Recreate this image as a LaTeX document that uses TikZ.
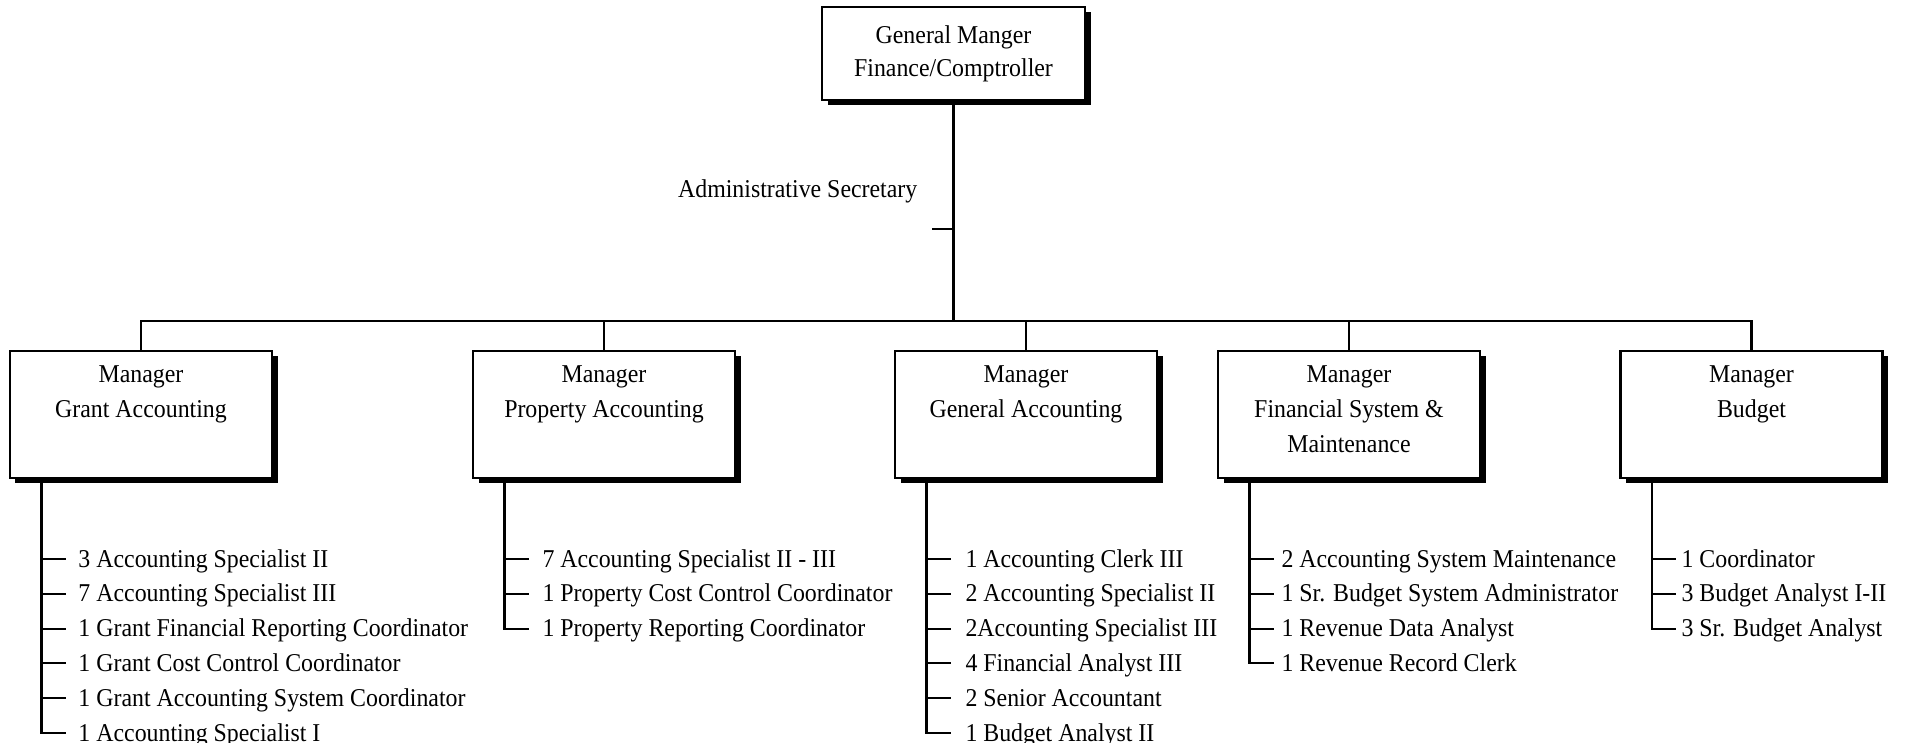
\documentclass[tikz,border=0pt]{standalone}
\usepackage{fontspec}
\setmainfont{Liberation Serif}[FakeStretch=0.93]
\usetikzlibrary{shadows}

\begin{document}
\begin{tikzpicture}[
  x=1cm,
  y=1cm,
  font=\fontsize{7.3}{9.9}\selectfont,
  office/.style={
    rectangle,
    draw=black,
    fill=white,
    line width=0.6pt,
    align=center,
    inner sep=0pt,
    drop shadow={shadow xshift=0.055cm, shadow yshift=-0.055cm, fill=black, opacity=1}
  },
  chief/.style={
    office,
    minimum width=2.63cm,
    minimum height=0.93cm,
    font=\fontsize{7.3}{9.4}\selectfont
  },
  manager/.style={
    office,
    minimum width=2.62cm,
    minimum height=1.27cm,
    font=\fontsize{7.3}{9.96}\selectfont
  },
  staff/.style={anchor=mid west, inner ysep=0pt, inner xsep=#1, outer sep=0pt},
  staff/.default=0.13cm,
  link/.style={draw=black, line width=0.6pt}
]
\useasboundingbox (0,0) rectangle (19.10,7.43);

% ---------------------------------------------------------------------------
% Top of the chart
% ---------------------------------------------------------------------------
\node[chief] (gm) at (9.535,6.895) {General Manger\\Finance/Comptroller};
\node[anchor=base east, inner sep=0pt] (sec) at (9.18,5.45) {Administrative Secretary};
\coordinate (sectick) at (9.32,5.14);
\coordinate (bar) at (0,4.22);

% ---------------------------------------------------------------------------
% Managers
% ---------------------------------------------------------------------------
\node[manager] (grant)    at (1.41,3.285)   {Manager\\Grant Accounting\\\strut};
\node[manager] (property) at (6.04,3.285)   {Manager\\Property Accounting\\\strut};
\node[manager] (general)  at (10.26,3.285)  {Manager\\General Accounting\\\strut};
\node[manager] (finsys)   at (13.49,3.285)  {Manager\\Financial System \&\\Maintenance\strut};
\node[manager] (budget)   at (17.515,3.285) {Manager\\Budget\\\strut};

\draw[link] (gm.south) -- (gm.south |- bar);
\draw[link] (sectick) -- (sectick -| gm.south);
\draw[link] (grant.north) -- (grant.north |- bar) -- (budget.north |- bar) -- (budget.north);
\draw[link] (property.north) -- (property.north |- bar);
\draw[link] (general.north) -- (general.north |- bar);
\draw[link] (finsys.north) -- (finsys.north |- bar);

% ---------------------------------------------------------------------------
% Grant accounting staff
% ---------------------------------------------------------------------------
\coordinate (gaspine) at ([xshift=0.325cm]grant.south west);
\node[staff] (ga1) at (0.655,1.840) {3 Accounting Specialist II};
\node[staff] (ga2) at (0.655,1.492) {7 Accounting Specialist III};
\node[staff] (ga3) at (0.655,1.144) {1 Grant Financial Reporting Coordinator};
\node[staff] (ga4) at (0.655,0.796) {1 Grant Cost Control Coordinator};
\node[staff] (ga5) at (0.655,0.448) {1 Grant Accounting System Coordinator};
\node[staff] (ga6) at (0.655,0.100) {1 Accounting Specialist I};
\draw[link] (gaspine) |- (ga6.mid west);
\draw[link] (ga1.mid west -| gaspine) -- (ga1.mid west);
\draw[link] (ga2.mid west -| gaspine) -- (ga2.mid west);
\draw[link] (ga3.mid west -| gaspine) -- (ga3.mid west);
\draw[link] (ga4.mid west -| gaspine) -- (ga4.mid west);
\draw[link] (ga5.mid west -| gaspine) -- (ga5.mid west);

% ---------------------------------------------------------------------------
% Property accounting staff
% ---------------------------------------------------------------------------
\coordinate (paspine) at ([xshift=0.325cm]property.south west);
\node[staff=0.14cm] (pa1) at (5.285,1.840) {7 Accounting Specialist II - III};
\node[staff=0.14cm] (pa2) at (5.285,1.492) {1 Property Cost Control Coordinator};
\node[staff=0.14cm] (pa3) at (5.285,1.144) {1 Property Reporting Coordinator};
\draw[link] (paspine) |- (pa3.mid west);
\draw[link] (pa1.mid west -| paspine) -- (pa1.mid west);
\draw[link] (pa2.mid west -| paspine) -- (pa2.mid west);

% ---------------------------------------------------------------------------
% General accounting staff
% ---------------------------------------------------------------------------
\coordinate (gespine) at ([xshift=0.325cm]general.south west);
\node[staff=0.15cm] (ge1) at (9.505,1.840) {1 Accounting Clerk III};
\node[staff=0.15cm] (ge2) at (9.505,1.492) {2 Accounting Specialist II};
\node[staff=0.15cm] (ge3) at (9.505,1.144) {2Accounting Specialist III};
\node[staff=0.15cm] (ge4) at (9.505,0.796) {4 Financial Analyst III};
\node[staff=0.15cm] (ge5) at (9.505,0.448) {2 Senior Accountant};
\node[staff=0.15cm] (ge6) at (9.505,0.100) {1 Budget Analyst II};
\draw[link] (gespine) |- (ge6.mid west);
\draw[link] (ge1.mid west -| gespine) -- (ge1.mid west);
\draw[link] (ge2.mid west -| gespine) -- (ge2.mid west);
\draw[link] (ge3.mid west -| gespine) -- (ge3.mid west);
\draw[link] (ge4.mid west -| gespine) -- (ge4.mid west);
\draw[link] (ge5.mid west -| gespine) -- (ge5.mid west);

% ---------------------------------------------------------------------------
% Financial system staff
% ---------------------------------------------------------------------------
\coordinate (fsspine) at ([xshift=0.325cm]finsys.south west);
\node[staff=0.08cm] (fs1) at (12.735,1.840) {2 Accounting System Maintenance};
\node[staff=0.08cm] (fs2) at (12.735,1.492) {1 Sr. Budget System Administrator};
\node[staff=0.08cm] (fs3) at (12.735,1.144) {1 Revenue Data Analyst};
\node[staff=0.08cm] (fs4) at (12.735,0.796) {1 Revenue Record Clerk};
\draw[link] (fsspine) |- (fs4.mid west);
\draw[link] (fs1.mid west -| fsspine) -- (fs1.mid west);
\draw[link] (fs2.mid west -| fsspine) -- (fs2.mid west);
\draw[link] (fs3.mid west -| fsspine) -- (fs3.mid west);

% ---------------------------------------------------------------------------
% Budget staff
% ---------------------------------------------------------------------------
\coordinate (buspine) at ([xshift=0.325cm]budget.south west);
\node[staff=0.06cm] (bu1) at (16.755,1.840) {1 Coordinator};
\node[staff=0.06cm] (bu2) at (16.755,1.492) {3 Budget Analyst I-II};
\node[staff=0.06cm] (bu3) at (16.755,1.144) {3 Sr. Budget Analyst};
\draw[link] (buspine) |- (bu3.mid west);
\draw[link] (bu1.mid west -| buspine) -- (bu1.mid west);
\draw[link] (bu2.mid west -| buspine) -- (bu2.mid west);

\end{tikzpicture}
\end{document}
